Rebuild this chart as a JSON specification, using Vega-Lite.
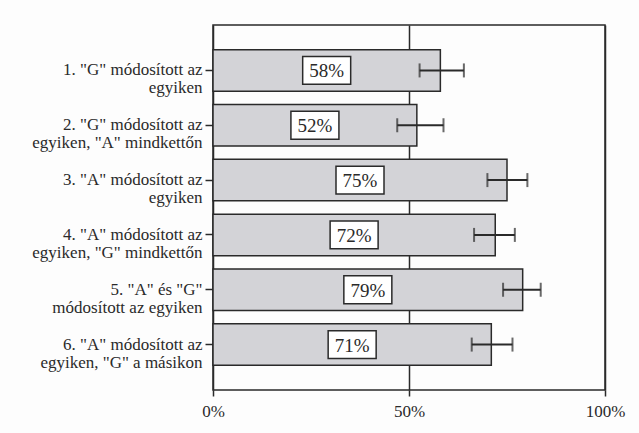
{
  "$schema": "https://vega.github.io/schema/vega-lite/v6.json",
  "width": 392,
  "height": 365,
  "autosize": {"type": "none"},
  "padding": {"left": 213, "top": 25, "right": 34, "bottom": 43},
  "background": "#fdfdfd",
  "config": {
    "view": {"stroke": "#2a2a2a", "strokeWidth": 1.5},
    "font": "serif"
  },
  "data": {
    "values": [
      {"cat": "1. \"G\" módosított az|egyiken", "value": 0.58, "lo": 0.527, "hi": 0.64, "label": "58%"},
      {"cat": "2. \"G\" módosított az|egyiken, \"A\" mindkettőn", "value": 0.52, "lo": 0.47, "hi": 0.588, "label": "52%"},
      {"cat": "3. \"A\" módosított az|egyiken", "value": 0.75, "lo": 0.70, "hi": 0.802, "label": "75%"},
      {"cat": "4. \"A\" módosított az|egyiken, \"G\" mindkettőn", "value": 0.72, "lo": 0.666, "hi": 0.77, "label": "72%"},
      {"cat": "5. \"A\" és \"G\"|módosított az egyiken", "value": 0.79, "lo": 0.74, "hi": 0.836, "label": "79%"},
      {"cat": "6. \"A\" módosított az|egyiken, \"G\" a másikon", "value": 0.71, "lo": 0.66, "hi": 0.764, "label": "71%"}
    ]
  },
  "encoding": {
    "y": {
      "field": "cat",
      "type": "nominal",
      "sort": null,
      "scale": {"paddingInner": 0.243, "paddingOuter": 0.45},
      "axis": {
        "title": null,
        "domain": false,
        "labelExpr": "split(datum.label, '|')",
        "labelFont": "serif",
        "labelFontSize": 17,
        "labelColor": "#2a2a2a",
        "labelLineHeight": 18,
        "labelPadding": 3,
        "labelLimit": 300,
        "tickSize": 8,
        "tickColor": "#2a2a2a",
        "tickWidth": 1.5
      }
    }
  },
  "layer": [
    {
      "mark": {"type": "bar", "fill": "#d3d3d7", "stroke": "#2a2a2a", "strokeWidth": 1.5},
      "encoding": {
        "x": {
          "field": "value",
          "type": "quantitative",
          "scale": {"domain": [0, 1], "nice": false},
          "axis": {
            "title": null,
            "values": [0, 0.5, 1],
            "format": ".0%",
            "domain": false,
            "grid": true,
            "gridColor": "#2a2a2a",
            "gridWidth": 1.5,
            "gridOpacity": 1,
            "tickSize": 6,
            "tickColor": "#2a2a2a",
            "tickWidth": 1.5,
            "labelFont": "Liberation Serif",
            "labelFontSize": 17,
            "labelColor": "#2a2a2a",
            "labelPadding": 7,
            "labelFlush": false
          }
        }
      }
    },
    {
      "mark": {"type": "rule", "stroke": "#2a2a2a", "strokeWidth": 2},
      "encoding": {
        "x": {"field": "lo", "type": "quantitative"},
        "x2": {"field": "hi"}
      }
    },
    {
      "mark": {"type": "tick", "color": "#2a2a2a", "size": 14, "thickness": 2, "orient": "vertical"},
      "encoding": {"x": {"field": "lo", "type": "quantitative"}}
    },
    {
      "mark": {"type": "tick", "color": "#2a2a2a", "size": 14, "thickness": 2, "orient": "vertical"},
      "encoding": {"x": {"field": "hi", "type": "quantitative"}}
    },
    {
      "transform": [{"calculate": "datum.value / 2", "as": "mid"}],
      "mark": {"type": "point", "shape": "M-1,-0.58L1,-0.58L1,0.58L-1,0.58Z", "size": 2304, "filled": true, "fill": "#ffffff", "stroke": "#2a2a2a", "strokeWidth": 1.5, "opacity": 1},
      "encoding": {"x": {"field": "mid", "type": "quantitative"}}
    },
    {
      "transform": [{"calculate": "datum.value / 2", "as": "mid"}],
      "mark": {"type": "text", "font": "Times New Roman", "fontSize": 19, "color": "#2a2a2a", "baseline": "middle", "align": "center", "dy": 1},
      "encoding": {
        "x": {"field": "mid", "type": "quantitative"},
        "text": {"field": "label"}
      }
    }
  ]
}
